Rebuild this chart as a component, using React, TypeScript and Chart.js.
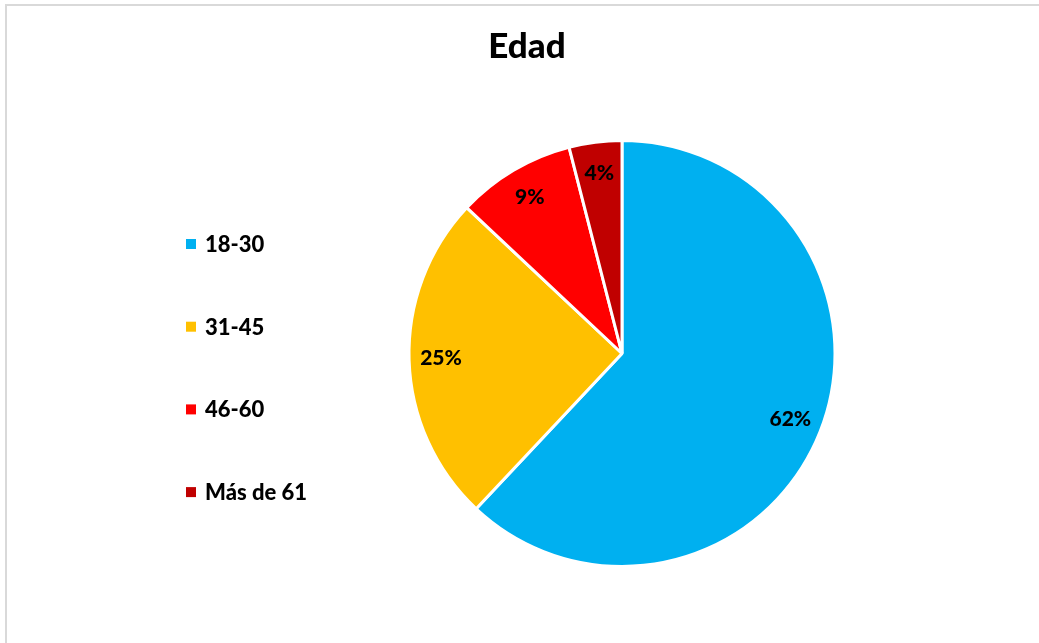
import React, { useEffect, useRef } from "react";
import { Chart, registerables } from "chart.js";

Chart.register(...registerables);

const TITLE = "Edad";
const categories = ["18-30", "31-45", "46-60", "Más de 61"];
const values = [62, 25, 9, 4];
const colors = ["#00B0F0", "#FFC000", "#FF0000", "#C00000"];

const FONT = "Lato, 'Open Sans', sans-serif";

const overlayPlugin = {
  id: "overlay",
  afterDatasetsDraw(chart: any) {
    const ctx = chart.ctx;
    const meta = chart.getDatasetMeta(0);
    const data = chart.data.datasets[0].data as number[];
    const total = data.reduce((a: number, b: number) => a + b, 0);
    ctx.save();
    // slice labels
    ctx.fillStyle = "#000000";
    ctx.font = `900 21px ${FONT}`;
    ctx.textAlign = "center";
    ctx.textBaseline = "alphabetic";
    meta.data.forEach((arc: any, i: number) => {
      const p = arc.getProps(["x", "y", "startAngle", "endAngle", "outerRadius"], true);
      const mid = (p.startAngle + p.endAngle) / 2;
      const d = p.outerRadius * 0.85;
      const x = p.x + Math.cos(mid) * d;
      const y = p.y + Math.sin(mid) * d;
      const pct = Math.round((data[i] / total) * 100) + "%";
      ctx.fillText(pct, x, y + 6);
    });
    // title
    ctx.font = `900 35px ${FONT}`;
    ctx.fillText(TITLE, 527, 58);
    // legend
    ctx.textAlign = "left";
    ctx.font = `900 22px ${FONT}`;
    categories.forEach((c, i) => {
      const cy = 244 + i * 82.7;
      ctx.fillStyle = colors[i];
      ctx.fillRect(186, cy - 5, 10, 10);
      ctx.fillStyle = "#000000";
      ctx.fillText(c, 205, cy + 8);
    });
    ctx.restore();
  },
};

export default function App() {
  const ref = useRef<HTMLCanvasElement | null>(null);
  useEffect(() => {
    if (!ref.current) return;
    const chart = new Chart(ref.current, {
      type: "pie",
      data: {
        labels: categories,
        datasets: [
          {
            data: values,
            backgroundColor: colors,
            borderColor: "#FFFFFF",
            borderWidth: 3,
          },
        ],
      },
      options: {
        animation: false,
        responsive: false,
        maintainAspectRatio: false,
        layout: { padding: { top: 139, bottom: 75, left: 407, right: 202 } },
        plugins: {
          legend: { display: false },
          title: { display: false },
          tooltip: { enabled: false },
        },
      },
      plugins: [overlayPlugin],
    });
    return () => chart.destroy();
  }, []);
  return (
    <div style={{ position: "fixed", left: 0, top: 0, width: 1039, height: 643, background: "#fff", overflow: "hidden" }}>
      <div
        style={{
          position: "absolute",
          left: 5,
          top: 4,
          width: 1060,
          height: 700,
          border: "2px solid #D9D9D9",
          boxSizing: "border-box",
        }}
      />
      <canvas ref={ref} width={1039} height={643} style={{ position: "absolute", left: 0, top: 0, width: 1039, height: 643 }} />
    </div>
  );
}
